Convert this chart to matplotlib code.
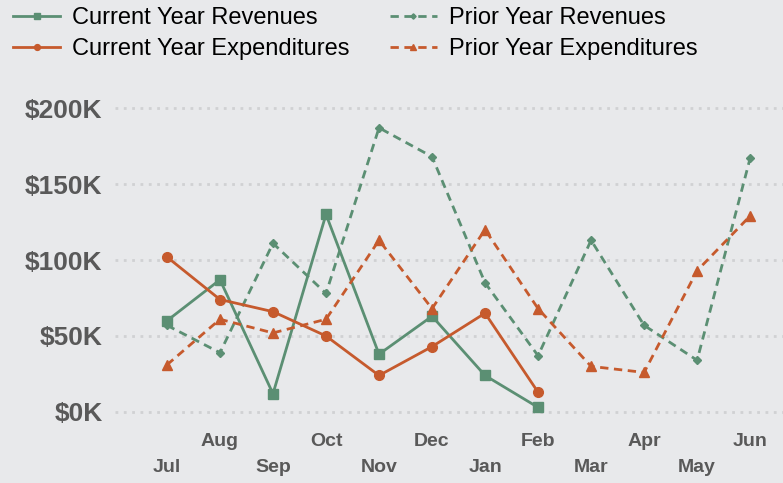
import matplotlib
matplotlib.use("Agg")
import matplotlib.pyplot as plt
from matplotlib.ticker import FuncFormatter

months = ["Jul", "Aug", "Sep", "Oct", "Nov", "Dec", "Jan", "Feb", "Mar", "Apr", "May", "Jun"]
cur_rev = [60, 87, 12, 130, 38, 63, 24, 3]
prior_rev = [57, 39, 111, 78, 187, 168, 85, 37, 113, 57, 34, 167]
cur_exp = [102, 74, 66, 50, 24, 43, 65, 13]
prior_exp = [31, 61, 52, 61, 113, 68, 120, 68, 30, 26, 93, 129]
y_ticks = [0, 50, 100, 150, 200]

green = "#5b8f73"
orange = "#c65a2d"
bg = "#e8e9eb"
gray = "#595959"

plt.rcParams['font.family'] = ['Liberation Sans', 'DejaVu Sans']

fig = plt.figure(figsize=(7.83, 4.83), dpi=100)
fig.patch.set_facecolor(bg)
ax = fig.add_axes([115/783, (483-420)/483, 1-115/783, (420-100)/483])
ax.set_facecolor(bg)

x_all = list(range(len(months)))
ax.plot(x_all[:len(cur_rev)], cur_rev, color=green, lw=2, marker="s", ms=7, label="Current Year Revenues")
ax.plot(x_all, prior_rev, color=green, lw=2, ls=(0, (3, 2)), marker="D", ms=4.5, label="Prior Year Revenues")
ax.plot(x_all[:len(cur_exp)], cur_exp, color=orange, lw=2, marker="o", ms=7, label="Current Year Expenditures")
ax.plot(x_all, prior_exp, color=orange, lw=2, ls=(0, (3, 2)), marker="^", ms=7, label="Prior Year Expenditures")

ax.set_xlim(-0.98, 11.62)
ax.set_ylim(-5.3, 205.3)
ax.set_yticks(y_ticks)
ax.yaxis.set_major_formatter(FuncFormatter(lambda v, p: f"${int(v)}K"))
ax.grid(axis="y", color="#d0d1d3", lw=2, ls=(0, (1, 2)))
ax.set_axisbelow(True)
for s in ax.spines.values():
    s.set_visible(False)

labels = [("\n" + m if i % 2 == 0 else m) for i, m in enumerate(months)]
ax.set_xticks(x_all)
ax.set_xticklabels(labels)
ax.tick_params(axis="x", length=0, pad=9, labelsize=14, labelcolor=gray)
ax.tick_params(axis="y", length=0, pad=9, labelsize=19, labelcolor=gray)
for lbl in ax.get_xticklabels():
    lbl.set_fontweight("bold")
    lbl.set_linespacing(1.7)
for lbl in ax.get_yticklabels():
    lbl.set_fontweight("bold")

h, l = ax.get_legend_handles_labels()
order = [0, 2, 1, 3]
leg = fig.legend([h[i] for i in order], [l[i] for i in order], ncol=2, loc="upper left",
                 bbox_to_anchor=(13/783, 1 - 7/483), frameon=False, fontsize=17,
                 borderpad=0, borderaxespad=0,
                 handlelength=2.0, columnspacing=1.7, labelspacing=0.38, handletextpad=0.5,
                 markerscale=0.6)

fig.savefig("out.png", dpi=100, facecolor=bg)
